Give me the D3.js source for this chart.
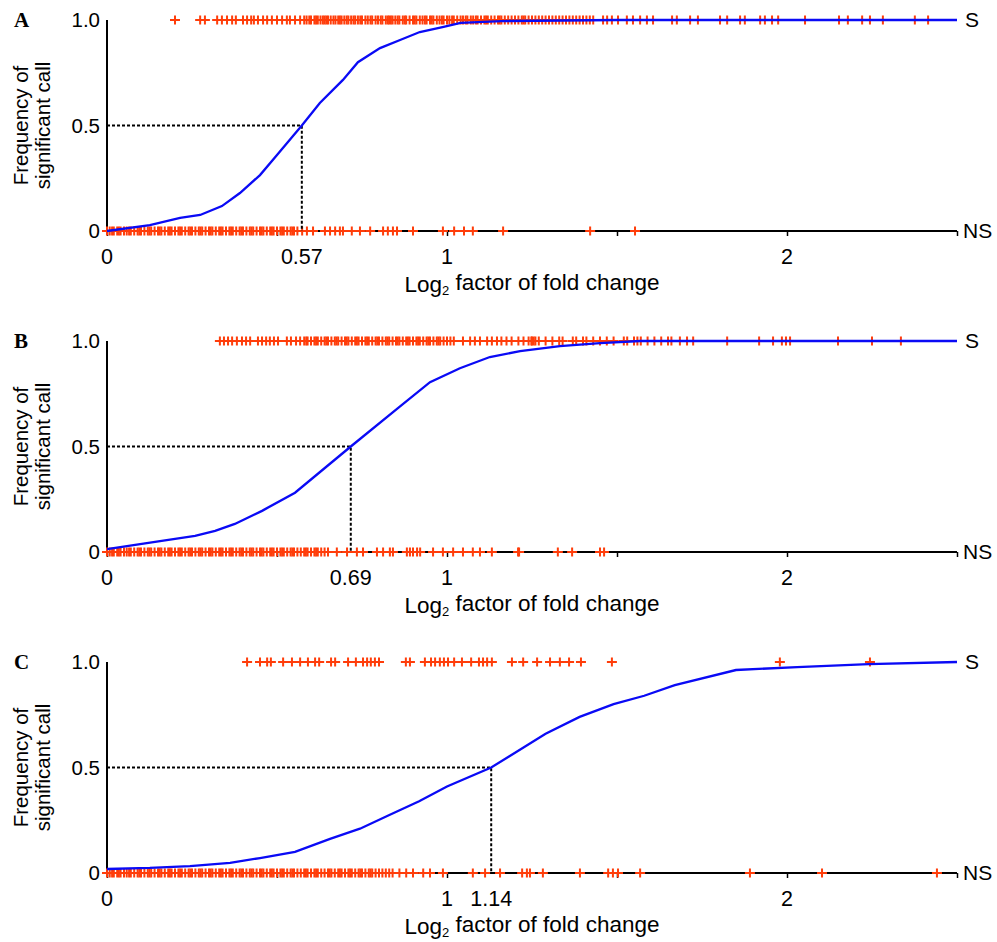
<!DOCTYPE html>
<html>
<head>
<meta charset="utf-8">
<script src="https://cdn.jsdelivr.net/npm/d3@7"></script>
<style>
  html, body { margin: 0; padding: 0; background: #fff; }
  svg { display: block; }
</style>
</head>
<body>
<div id="chart"></div>
<script>
// ---------------- DATA ----------------
const panelLetters = ["A", "B", "C"];
const xTickValues = [0, 0.5, 1, 1.5, 2, 2.5];
const xTickLabelValues = [0, 1, 2];
const yTickValues = [0, 0.5, 1];
const yTickLabels = ["0", "0.5", "1.0"];
// position of the 50 % point on the x axis and its printed label
const medianX = [0.573, 0.717, 1.13];
const medianLabels = ["0.57", "0.69", "1.14"];

// Fitted frequency curves
const curveA_x = [0, 0.126, 0.215, 0.274, 0.338, 0.391, 0.45, 0.50, 0.573, 0.626, 0.694, 0.738, 0.803, 0.862, 0.92, 0.99, 1.04, 1.16, 1.5, 2.0, 2.5];
const curveA_y = [0, 0.028, 0.062, 0.076, 0.118, 0.18, 0.265, 0.36, 0.50, 0.607, 0.716, 0.80, 0.867, 0.905, 0.943, 0.967, 0.986, 0.995, 1, 1, 1];
const curveB_x = [0, 0.156, 0.259, 0.318, 0.376, 0.456, 0.553, 0.717, 0.862, 0.95, 1.038, 1.126, 1.215, 1.332, 1.45, 1.568, 2.0, 2.5];
const curveB_y = [0.014, 0.052, 0.076, 0.10, 0.133, 0.195, 0.281, 0.5, 0.69, 0.805, 0.871, 0.924, 0.952, 0.976, 0.99, 1.0, 1.0, 1.0];
const curveC_x = [0, 0.126, 0.244, 0.362, 0.45, 0.553, 0.656, 0.744, 0.832, 0.918, 1.0, 1.13, 1.29, 1.39, 1.49, 1.58, 1.67, 1.85, 2.03, 2.24, 2.5];
const curveC_y = [0.019, 0.024, 0.033, 0.048, 0.071, 0.10, 0.162, 0.21, 0.276, 0.34, 0.41, 0.50, 0.66, 0.74, 0.80, 0.84, 0.89, 0.962, 0.976, 0.99, 1.0];

// Individual calls: significant (S, plotted at 1) and not significant (NS, plotted at 0)
const sigA = [0.2, 0.274, 0.288, 0.324, 0.338, 0.353, 0.368, 0.379, 0.4, 0.412, 0.424, 0.432, 0.444, 0.459, 0.471, 0.485, 0.5, 0.515, 0.529, 0.538, 0.553, 0.568,
  0.58, 0.587, 0.595, 0.6, 0.61, 0.615, 0.62, 0.628, 0.635, 0.64, 0.645, 0.65, 0.658, 0.666, 0.672, 0.68, 0.685, 0.69, 0.698, 0.705, 0.71, 0.718, 0.725, 0.73, 0.738, 0.745, 0.75, 0.76, 0.767, 0.775, 0.78,
  0.79, 0.797, 0.805, 0.81, 0.82, 0.826, 0.83, 0.835, 0.84, 0.848, 0.855, 0.86, 0.87, 0.876, 0.88, 0.89, 0.9, 0.905, 0.91, 0.92, 0.928, 0.935, 0.94, 0.95, 0.955, 0.96, 0.97, 0.978, 0.985, 0.99, 1.0, 1.007, 1.015, 1.02, 1.03,
  1.04, 1.047, 1.055, 1.06, 1.07, 1.077, 1.085, 1.09, 1.1, 1.11, 1.115, 1.12, 1.13, 1.14, 1.15, 1.155, 1.16, 1.17, 1.18, 1.19, 1.2, 1.21, 1.22, 1.225, 1.23, 1.24, 1.25, 1.26, 1.27, 1.28, 1.29,
  1.3, 1.31, 1.32, 1.33, 1.34, 1.35, 1.36, 1.37, 1.38, 1.39, 1.4, 1.41, 1.42, 1.43,
  1.459, 1.471, 1.485, 1.503, 1.529, 1.547, 1.568, 1.588, 1.606, 1.662, 1.676, 1.715, 1.738, 1.803, 1.824, 1.862, 1.876, 1.921, 1.935, 1.956, 1.974,
  2.053, 2.153, 2.179, 2.221, 2.244, 2.282, 2.376, 2.415];
const nsA = [0, 0.008, 0.015, 0.02, 0.03, 0.035, 0.04, 0.05, 0.058, 0.065, 0.07, 0.08, 0.09, 0.095, 0.1, 0.11, 0.12, 0.125, 0.13, 0.14, 0.15, 0.155, 0.16, 0.17, 0.18, 0.185, 0.19, 0.2, 0.21, 0.215, 0.22, 0.23,
  0.24, 0.245, 0.25, 0.26, 0.27, 0.275, 0.28, 0.29, 0.3, 0.305, 0.31, 0.32, 0.33, 0.335, 0.34, 0.35, 0.36, 0.365, 0.37, 0.38, 0.39, 0.395, 0.4, 0.41, 0.42, 0.425, 0.43, 0.44, 0.45, 0.455, 0.46, 0.47, 0.48,
  0.485, 0.49, 0.5, 0.51, 0.515, 0.52, 0.53, 0.54, 0.545, 0.55, 0.56, 0.574, 0.588, 0.606, 0.641, 0.656, 0.671, 0.685, 0.694, 0.72, 0.744, 0.774, 0.812, 0.826, 0.841, 0.853,
  0.9, 0.988, 1.021, 1.05, 1.076, 1.165, 1.421, 1.553];
const sigB = [0.332, 0.344, 0.356, 0.368, 0.382, 0.397, 0.409, 0.421, 0.444, 0.456, 0.468, 0.479, 0.491, 0.503, 0.529, 0.541, 0.556, 0.568,
  0.58, 0.586, 0.59, 0.6, 0.61, 0.615, 0.62, 0.63, 0.64, 0.645, 0.65, 0.66, 0.67, 0.675, 0.68, 0.69, 0.7, 0.705, 0.71, 0.72, 0.73, 0.735, 0.74, 0.75, 0.76, 0.765, 0.77, 0.78, 0.79, 0.795, 0.8, 0.81, 0.82,
  0.825, 0.83, 0.84, 0.85, 0.855, 0.86, 0.87, 0.88, 0.885, 0.89, 0.9, 0.91, 0.915, 0.92, 0.93, 0.94, 0.945, 0.95, 0.96, 0.97, 0.975, 0.98, 0.99, 1.0, 1.01, 1.02,
  1.047, 1.068, 1.082, 1.097, 1.118, 1.132, 1.147, 1.16, 1.175, 1.19, 1.21, 1.225, 1.24, 1.248, 1.25, 1.255, 1.26, 1.27, 1.29, 1.31, 1.33, 1.34,
  1.37, 1.38, 1.4, 1.41, 1.43, 1.45, 1.47, 1.49, 1.52, 1.53, 1.55, 1.56, 1.57, 1.59, 1.61, 1.63, 1.65, 1.66, 1.685, 1.706, 1.724,
  1.824, 1.918, 1.959, 1.985, 1.997, 2.009, 2.15, 2.25, 2.335];
const nsB = [0, 0.008, 0.015, 0.02, 0.03, 0.035, 0.04, 0.05, 0.058, 0.065, 0.07, 0.08, 0.09, 0.095, 0.1, 0.11, 0.12, 0.125, 0.13, 0.14, 0.15, 0.155, 0.16, 0.17, 0.18, 0.185, 0.19, 0.2, 0.21, 0.215, 0.22, 0.23,
  0.24, 0.245, 0.25, 0.26, 0.27, 0.275, 0.28, 0.29, 0.3, 0.305, 0.31, 0.32, 0.33, 0.335, 0.34, 0.35, 0.36, 0.365, 0.37, 0.38, 0.39, 0.395, 0.4, 0.41, 0.42, 0.425, 0.43, 0.44, 0.45, 0.455, 0.46, 0.47, 0.48,
  0.485, 0.49, 0.5, 0.51, 0.515, 0.52, 0.53, 0.54, 0.545, 0.55, 0.56, 0.57, 0.58, 0.585, 0.59, 0.6, 0.61, 0.615, 0.62, 0.63, 0.64, 0.65, 0.676, 0.706, 0.735, 0.753, 0.794, 0.812, 0.832,
  0.841, 0.882, 0.891, 0.9, 0.912, 0.921, 0.959, 0.988, 1.018, 1.047, 1.076, 1.097, 1.132, 1.209, 1.212, 1.326, 1.368, 1.45, 1.462];
const sigC = [0.412, 0.45, 0.471, 0.482, 0.518, 0.544, 0.568, 0.591, 0.612, 0.624, 0.659, 0.671, 0.709, 0.732, 0.753, 0.765, 0.776, 0.788, 0.8,
  0.879, 0.891, 0.935, 0.953, 0.965, 0.979, 0.991, 1.003, 1.021, 1.044, 1.071, 1.094, 1.106, 1.118, 1.132, 1.191, 1.224, 1.265, 1.303, 1.332,
  1.359, 1.394, 1.485, 1.979, 2.244];
const nsC = [0, 0.008, 0.015, 0.02, 0.03, 0.035, 0.04, 0.05, 0.058, 0.065, 0.07, 0.08, 0.09, 0.095, 0.1, 0.11, 0.12, 0.125, 0.13, 0.14, 0.15, 0.155, 0.16, 0.17, 0.18, 0.185, 0.19, 0.2, 0.21, 0.215, 0.22, 0.23,
  0.24, 0.245, 0.25, 0.26, 0.27, 0.275, 0.28, 0.29, 0.3, 0.305, 0.31, 0.32, 0.33, 0.335, 0.34, 0.35, 0.36, 0.365, 0.37, 0.38, 0.39, 0.395, 0.4, 0.41, 0.42, 0.425, 0.43, 0.44, 0.45, 0.455, 0.46, 0.47, 0.48,
  0.485, 0.49, 0.5, 0.51, 0.515, 0.52, 0.53, 0.54, 0.545, 0.55, 0.56, 0.57, 0.58, 0.585, 0.59, 0.6, 0.61, 0.615, 0.62, 0.63, 0.64, 0.65, 0.655, 0.66, 0.67, 0.68, 0.685, 0.69, 0.7, 0.71, 0.715, 0.72, 0.73,
  0.74, 0.745, 0.75, 0.76, 0.77, 0.775, 0.78, 0.79, 0.8, 0.81, 0.82, 0.83, 0.84, 0.86, 0.88, 0.9, 0.93, 0.95, 0.988, 1.076, 1.112, 1.156, 1.221, 1.235, 1.244,
  1.282, 1.391, 1.474, 1.488, 1.503, 1.568, 1.891, 2.103, 2.441];

// ---------------- LAYOUT ----------------
const W = 997, H = 942;
const panelTops = [20, 341, 662];
const panelH = 211;
const x0 = 107, x1 = 957;
const FONT = "Liberation Sans, Arial, Helvetica, sans-serif";
const RED = "#ff3d0a", BLUE = "#0a0af5";

const panels = [
  { letter: panelLetters[0], cx: curveA_x, cy: curveA_y, sig: sigA, ns: nsA, mx: medianX[0], ml: medianLabels[0] },
  { letter: panelLetters[1], cx: curveB_x, cy: curveB_y, sig: sigB, ns: nsB, mx: medianX[1], ml: medianLabels[1] },
  { letter: panelLetters[2], cx: curveC_x, cy: curveC_y, sig: sigC, ns: nsC, mx: medianX[2], ml: medianLabels[2] }
];

const svg = d3.select("#chart").append("svg").attr("width", W).attr("height", H);
const x = d3.scaleLinear().domain([0, 2.5]).range([x0, x1]);

panels.forEach((p, i) => {
  const top = panelTops[i];
  const y = d3.scaleLinear().domain([0, 1]).range([top + panelH, top]);
  const g = svg.append("g");

  // panel letter
  g.append("text").attr("x", 14).attr("y", y(1)).attr("dy", "0.35em")
    .attr("font-family", "Liberation Serif, Times New Roman, serif").attr("font-weight", "bold")
    .attr("font-size", 21).text(p.letter);

  // y axis title
  const yMid = y(0.5);
  const yt = g.append("text").attr("transform", `translate(21,${yMid}) rotate(-90)`)
    .attr("text-anchor", "middle").attr("font-family", FONT).attr("font-size", 20.5).attr("fill", "#000");
  yt.append("tspan").attr("x", 0).attr("dy", "0.35em").text("Frequency of");
  yt.append("tspan").attr("x", 0).attr("dy", "1.08em").text("significant call");

  // y axis line + labels
  g.append("line").attr("x1", x(0)).attr("x2", x(0)).attr("y1", y(1)).attr("y2", y(0))
    .attr("stroke", "#000").attr("stroke-width", 2);
  g.selectAll(".ytl").data(yTickValues).enter().append("text")
    .attr("x", x(0) - 7).attr("y", d => y(d)).attr("dy", "0.35em")
    .attr("text-anchor", "end").attr("font-family", FONT).attr("font-size", 20.5)
    .text((d, j) => yTickLabels[j]);

  // x axis
  const xAxis = d3.axisBottom(x).tickValues(xTickValues).tickSize(5).tickFormat("");
  const ax = g.append("g").attr("transform", `translate(0,${y(0)})`).call(xAxis);
  ax.select(".domain").attr("stroke", "#000").attr("stroke-width", 2.2).attr("d", `M${x0},0H${x1}`);
  ax.selectAll(".tick line").attr("stroke", "#000").attr("stroke-width", 1.5);

  const labs = xTickLabelValues.map(v => ({ v: v, t: String(v) })).concat([{ v: p.mx, t: p.ml }]);
  g.selectAll(".xtl").data(labs).enter().append("text")
    .attr("x", d => x(d.v)).attr("y", y(0) + 25).attr("dy", "0.35em")
    .attr("text-anchor", "middle").attr("font-family", FONT).attr("font-size", 21.5)
    .text(d => d.t);

  const xt = g.append("text").attr("x", x(1.25)).attr("y", y(0) + 53).attr("dy", "0.35em")
    .attr("text-anchor", "middle").attr("font-family", FONT).attr("font-size", 22.5);
  xt.append("tspan").text("Log");
  xt.append("tspan").attr("font-size", 13).attr("dy", "0.25em").text("2");
  xt.append("tspan").attr("dy", "-0.25em").text(" factor of fold change");

  // S / NS labels
  g.append("text").attr("x", x1 + 8).attr("y", y(1)).attr("dy", "0.35em")
    .attr("font-family", FONT).attr("font-size", 21).text("S");
  g.append("text").attr("x", x1 + 6).attr("y", y(0)).attr("dy", "0.35em")
    .attr("font-family", FONT).attr("font-size", 21).text("NS");

  // crosses
  const cross = (sel, vals, yv) => {
    sel.selectAll(null).data(vals).enter().append("path")
      .attr("d", d => `M${x(d) - 5},${y(yv)}h10M${x(d)},${y(yv) - 4.5}v9`)
      .attr("stroke", RED).attr("stroke-width", 2).attr("fill", "none");
  };
  cross(g, p.sig, 1);
  cross(g, p.ns, 0);

  // dashed median guides
  g.append("path")
    .attr("d", `M${x(0)},${y(0.5)}H${x(p.mx)}V${y(0)}`)
    .attr("fill", "none").attr("stroke", "#000").attr("stroke-width", 2).attr("stroke-dasharray", "3,2");

  // curve
  const line = d3.line().x(d => x(d[0])).y(d => y(d[1]));
  g.append("path").datum(p.cx.map((v, j) => [v, p.cy[j]]))
    .attr("d", line).attr("fill", "none").attr("stroke", BLUE).attr("stroke-width", 2.3);
});
</script>
</body>
</html>
